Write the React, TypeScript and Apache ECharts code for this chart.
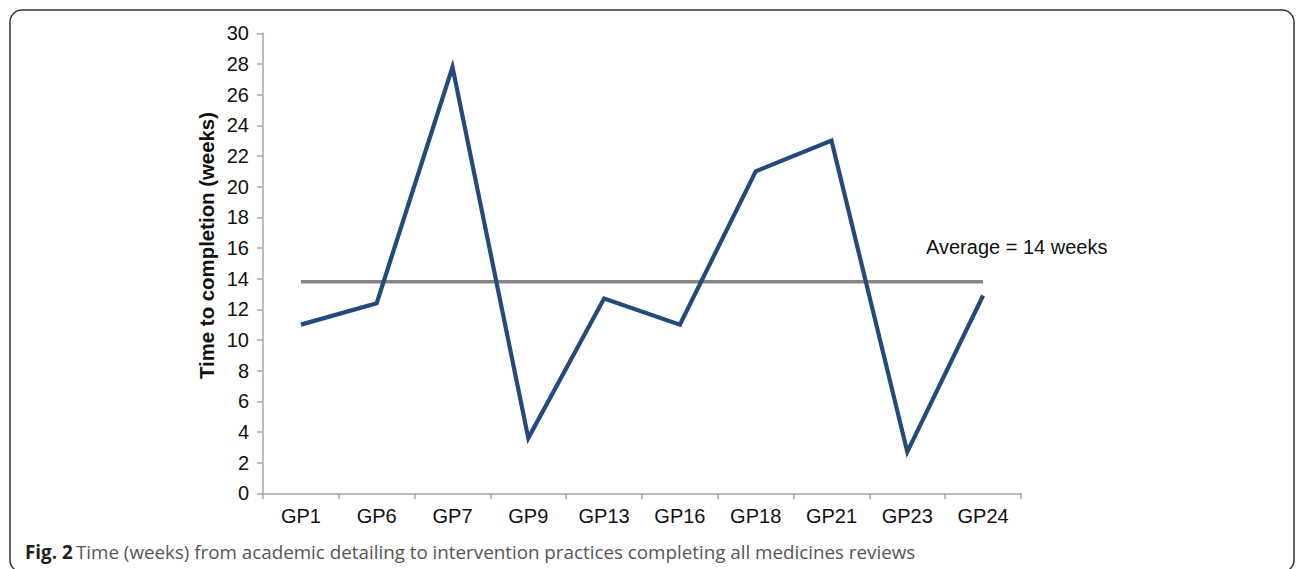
import React, { useEffect, useRef } from "react";
import * as echarts from "echarts";

const categories = ["GP1", "GP6", "GP7", "GP9", "GP13", "GP16", "GP18", "GP21", "GP23", "GP24"];
const weeks = [11, 12.4, 27.8, 3.6, 12.7, 11, 21, 23, 2.7, 12.9];
const averageWeeks = [13.8, 13.8, 13.8, 13.8, 13.8, 13.8, 13.8, 13.8, 13.8, 13.8];
const yAxisTitle = "Time to completion (weeks)";
const averageLabel = "Average = 14 weeks";
const captionBold = "Fig. 2";
const captionText = "Time (weeks) from academic detailing to intervention practices completing all medicines reviews";

const tickFont = "'Liberation Sans', Arial, sans-serif";

export default function App() {
  const ref = useRef<HTMLDivElement>(null);
  useEffect(() => {
    if (!ref.current) return;
    const chart = echarts.init(ref.current, undefined, { renderer: "svg" });
    chart.setOption({
      animation: false,
      backgroundColor: "#ffffff",
      grid: { left: 263, right: 275, top: 33.3, bottom: 75.7, containLabel: false },
      xAxis: {
        type: "category",
        data: categories,
        boundaryGap: true,
        axisLine: { lineStyle: { color: "#a6a6a6", width: 1.5 } },
        axisTick: { show: true, length: 6, lineStyle: { color: "#a6a6a6", width: 1.5 } },
        axisLabel: { color: "#111", fontSize: 20, fontFamily: tickFont, margin: 13 },
        splitLine: { show: false },
      },
      yAxis: {
        type: "value",
        min: 0,
        max: 30,
        interval: 2,
        axisLine: { show: true, lineStyle: { color: "#a6a6a6", width: 1.5 } },
        axisTick: { show: true, length: 6, lineStyle: { color: "#a6a6a6", width: 1.5 } },
        axisLabel: { color: "#111", fontSize: 20, fontFamily: tickFont, margin: 14 },
        splitLine: { show: false },
      },
      series: [
        {
          type: "line",
          data: averageWeeks,
          symbol: "none",
          lineStyle: { color: "#858585", width: 3.5 },
          z: 2,
        },
        {
          type: "line",
          data: weeks,
          symbol: "none",
          lineStyle: { color: "#234a7c", width: 4.2, join: "miter" },
          z: 3,
        },
      ],
      graphic: [
        {
          type: "rect",
          shape: { x: 10, y: 10, width: 1284, height: 562, r: 12 },
          style: { fill: "none", stroke: "#333", lineWidth: 1.5 },
          silent: true,
        },
        {
          type: "text",
          x: 206.5,
          y: 245.5,
          rotation: Math.PI / 2,
          style: {
            text: yAxisTitle,
            fontSize: 20.4,
            fontWeight: "bold",
            fontFamily: tickFont,
            fill: "#111",
            align: "center",
            verticalAlign: "middle",
          },
        },
        {
          type: "text",
          x: 926,
          y: 246.5,
          style: {
            text: averageLabel,
            fontSize: 20,
            fontFamily: tickFont,
            fill: "#111",
            align: "left",
            verticalAlign: "middle",
          },
        },
        {
          type: "text",
          x: 25,
          y: 552,
          style: {
            text: "{b|" + captionBold + "} {n|" + captionText + "}",
            verticalAlign: "middle",
            align: "left",
            rich: {
              b: { fontSize: 18.8, fontWeight: "bold", fontFamily: "'Open Sans', sans-serif", fill: "#231f20" },
              n: { fontSize: 18.8, fontFamily: "'Open Sans', sans-serif", fill: "#555" },
            },
          },
        },
      ],
    });
    return () => chart.dispose();
  }, []);
  return (
    <div
      ref={ref}
      style={{ position: "fixed", left: 0, top: 0, width: 1296, height: 569, background: "#fff" }}
    />
  );
}
